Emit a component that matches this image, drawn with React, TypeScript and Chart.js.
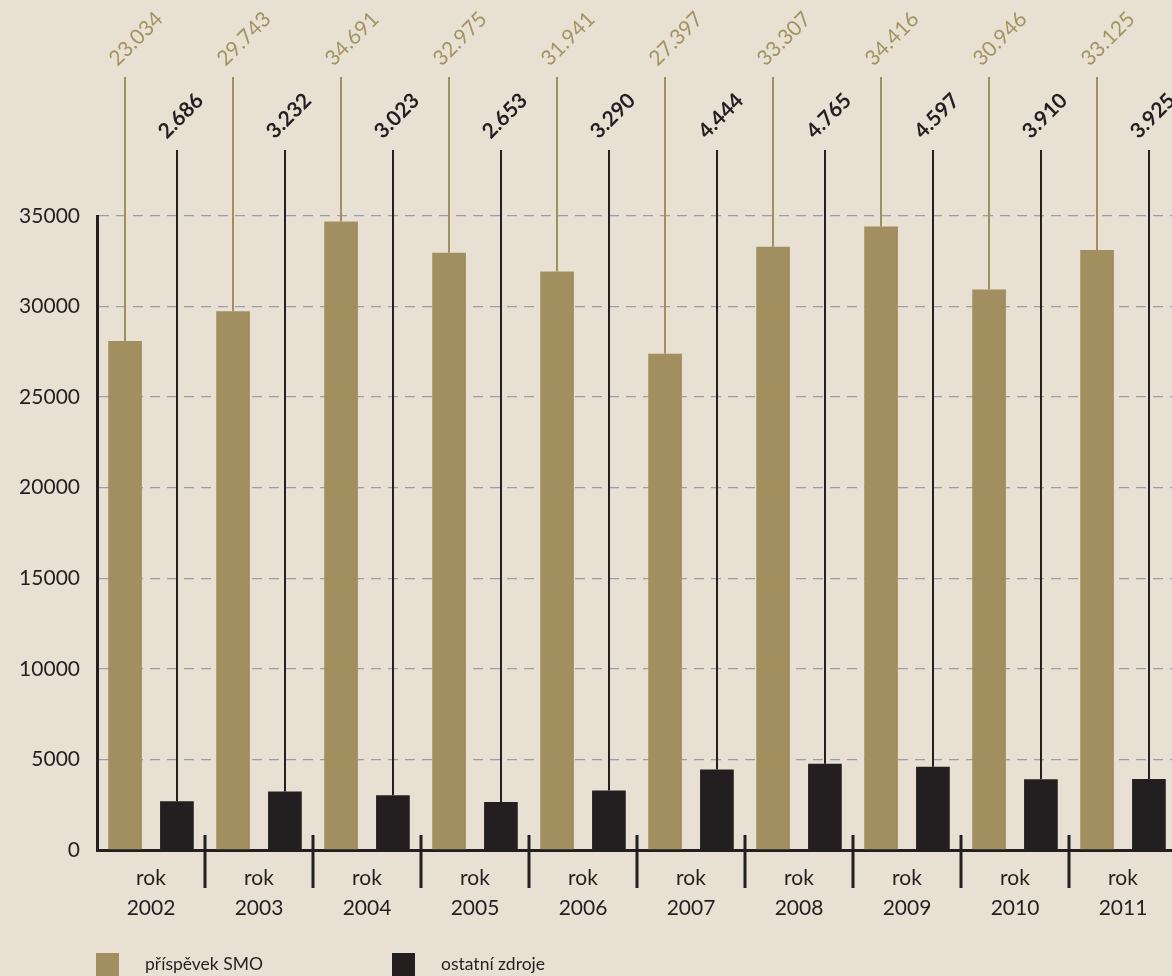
import React, { useEffect, useRef } from 'react';
import { Chart, registerables } from 'chart.js';

Chart.register(...registerables);

const years = ['2002', '2003', '2004', '2005', '2006', '2007', '2008', '2009', '2010', '2011'];
const smoValues = [28100, 29743, 34691, 32975, 31941, 27397, 33307, 34416, 30946, 33125];
const smoLabels = ['23.034', '29.743', '34.691', '32.975', '31.941', '27.397', '33.307', '34.416', '30.946', '33.125'];
const otherValues = [2686, 3232, 3023, 2653, 3290, 4444, 4765, 4597, 3910, 3925];
const otherLabels = ['2.686', '3.232', '3.023', '2.653', '3.290', '4.444', '4.765', '4.597', '3.910', '3.925'];
const seriesNames = ['příspěvek SMO', 'ostatní zdroje'];
const yMax = 35000;
const yStep = 5000;

const BG = '#e8e0d3';
const TAN = '#a18f5f';
const TAN_TEXT = '#a39363';
const DARK = '#231f20';
const FONT = 'Lato, "Open Sans", sans-serif';

const stemPlugin = {
  id: 'stems',
  afterDatasetsDraw(chart: any) {
    const ctx = chart.ctx;
    const cfg = [
      { top: 77, color: TAN, textColor: TAN_TEXT, weight: 'normal', labels: smoLabels, dx: 11, dy: -38 },
      { top: 150, color: DARK, textColor: DARK, weight: 'bold', labels: otherLabels, dx: 4, dy: -34 },
    ];
    cfg.forEach((c, di) => {
      const meta = chart.getDatasetMeta(di);
      meta.data.forEach((el: any, i: number) => {
        ctx.save();
        ctx.strokeStyle = c.color;
        ctx.lineWidth = 2;
        ctx.beginPath();
        ctx.moveTo(Math.round(el.x), el.y);
        ctx.lineTo(Math.round(el.x), c.top);
        ctx.stroke();
        ctx.translate(el.x + c.dx, c.top + c.dy);
        ctx.rotate((-45 * Math.PI) / 180);
        ctx.fillStyle = c.textColor;
        ctx.font = `${c.weight} 21px ${FONT}`;
        ctx.textAlign = 'center';
        ctx.textBaseline = 'middle';
        ctx.fillText(c.labels[i], 0, 0);
        ctx.restore();
      });
    });
    const x = chart.scales.x;
    const bottom = chart.chartArea.bottom;
    ctx.save();
    ctx.strokeStyle = DARK;
    ctx.lineWidth = 3;
    for (let i = 1; i < years.length; i++) {
      const sx = Math.round((x.getPixelForValue(i - 1) + x.getPixelForValue(i)) / 2);
      ctx.beginPath();
      ctx.moveTo(sx, bottom - 15);
      ctx.lineTo(sx, bottom + 38);
      ctx.stroke();
    }
    ctx.restore();
  },
};

export default function App() {
  const ref = useRef<HTMLCanvasElement | null>(null);

  useEffect(() => {
    if (!ref.current) return;
    const chart = new Chart(ref.current, {
      type: 'bar',
      data: {
        labels: years.map((y) => ['rok', y]),
        datasets: [
          { label: seriesNames[0], data: smoValues, backgroundColor: TAN, barPercentage: 0.65, categoryPercentage: 0.96 },
          { label: seriesNames[1], data: otherValues, backgroundColor: DARK, barPercentage: 0.65, categoryPercentage: 0.96 },
        ],
      },
      options: {
        responsive: false,
        animation: false,
        devicePixelRatio: 1,
        layout: { padding: { top: 216, right: 23, left: 0, bottom: 0 } },
        plugins: { legend: { display: false }, tooltip: { enabled: false } },
        scales: {
          x: {
            afterFit: (s: any) => { s.height = 126; },
            grid: { display: false, drawTicks: false },
            border: { display: true, color: DARK, width: 3 },
            ticks: { color: DARK, font: { family: FONT, size: 21, lineHeight: 1.45 }, padding: 13, maxRotation: 0, autoSkip: false },
          },
          y: {
            min: 0,
            max: yMax,
            afterFit: (s: any) => { s.width = 97; },
            grid: {
              drawTicks: false,
              color: (c: any) => (c.tick && c.tick.value === 0 ? 'rgba(0,0,0,0)' : '#9a9ca6'),
              lineWidth: 1.3,
            },
            border: { display: true, color: DARK, width: 3, dash: [10, 7] },
            ticks: {
              stepSize: yStep,
              color: DARK,
              font: { family: FONT, size: 21 },
              padding: 17,
              callback: (v: any) => String(v),
            },
          },
        },
      },
      plugins: [stemPlugin],
    });
    return () => chart.destroy();
  }, []);

  const legendText: React.CSSProperties = {
    position: 'absolute', top: 952, fontFamily: FONT, fontSize: 17.5, color: DARK, lineHeight: '24px',
  };

  return (
    <div style={{ position: 'absolute', left: 0, top: 0, width: 1172, height: 976, overflow: 'hidden', background: BG }}>
      <canvas ref={ref} width={1200} height={976} style={{ display: 'block', position: 'absolute', left: 0, top: 0 }} />
      <div style={{ position: 'absolute', left: 96, top: 953, width: 23, height: 23, background: TAN }} />
      <div style={{ ...legendText, left: 145 }}>{seriesNames[0]}</div>
      <div style={{ position: 'absolute', left: 392, top: 953, width: 23, height: 23, background: DARK }} />
      <div style={{ ...legendText, left: 441 }}>{seriesNames[1]}</div>
    </div>
  );
}
